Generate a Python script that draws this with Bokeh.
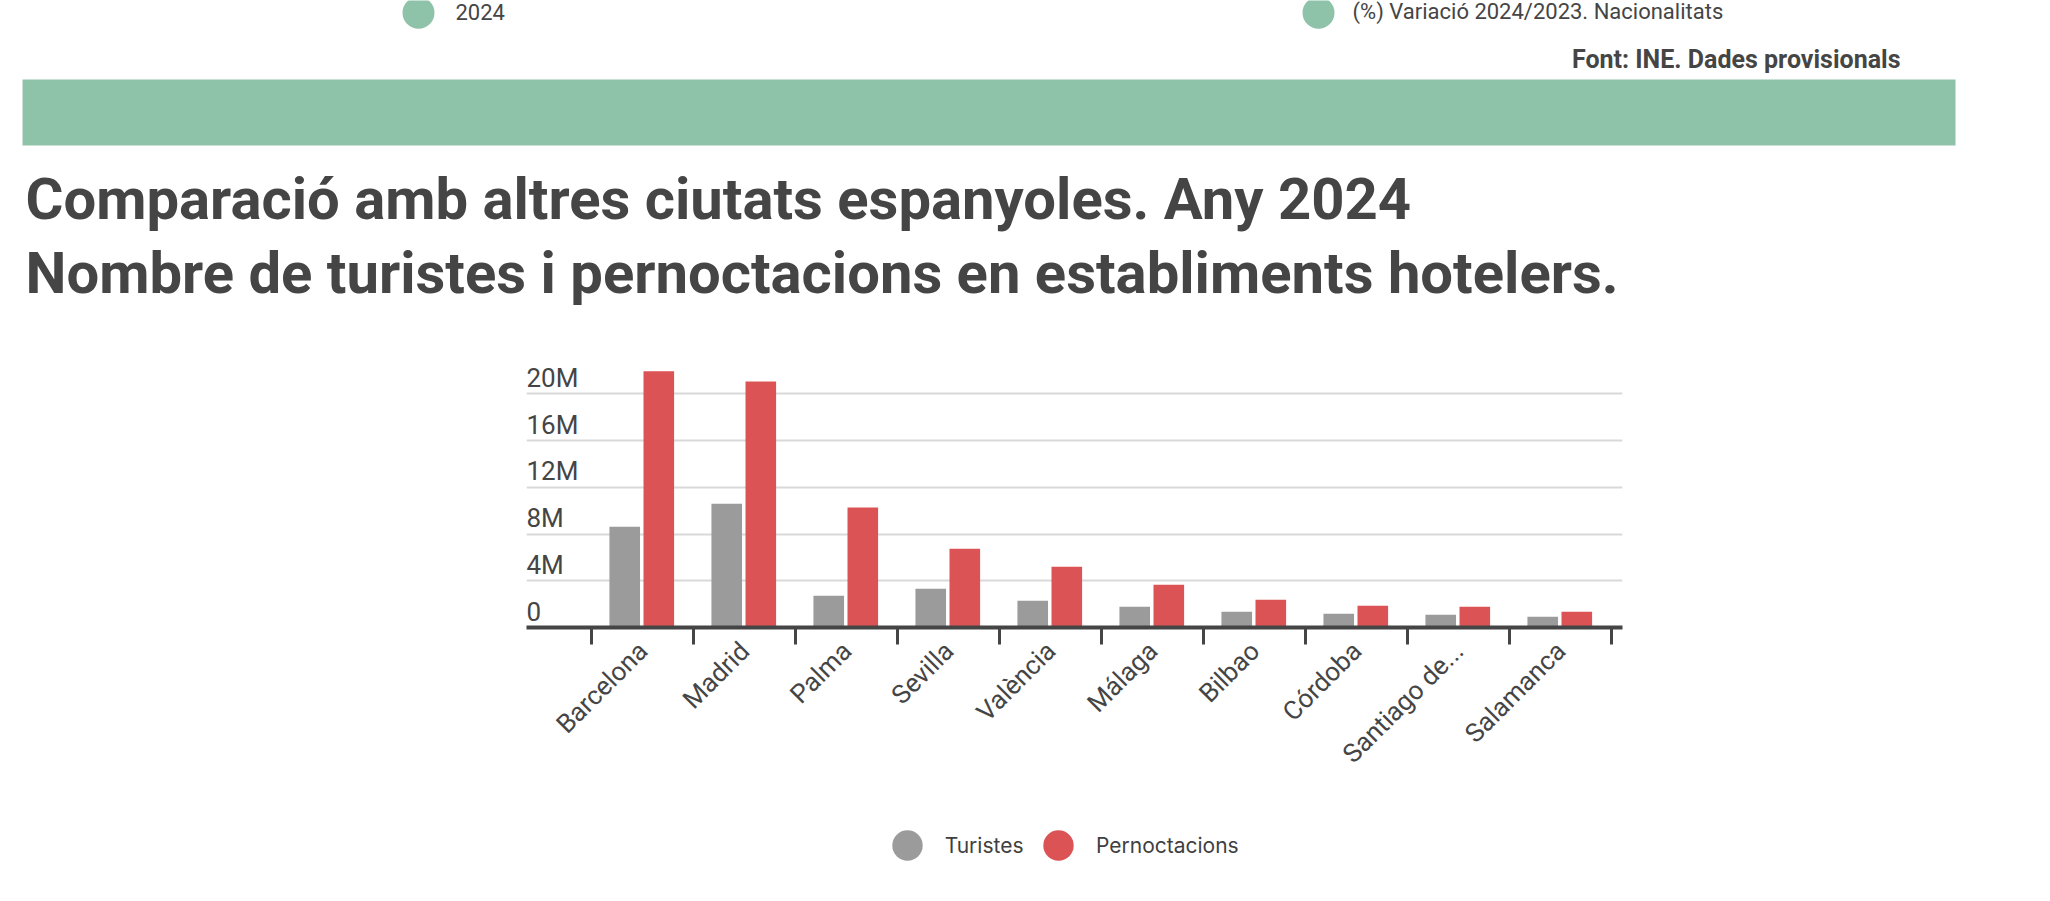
import math
from bokeh.plotting import figure
from bokeh.models import Range1d, FixedTicker, Grid, Legend, LegendItem, ColumnDataSource
from bokeh.transform import dodge
from bokeh.core.properties import value
from bokeh.embed import file_html
from bokeh.resources import INLINE

# ---------------- data ----------------
cities = ["Barcelona", "Madrid", "Palma", "Sevilla", "València", "Málaga",
          "Bilbao", "Córdoba", "Santiago de...", "Salamanca"]
turistes = [8.63e6, 10.60e6, 2.72e6, 3.32e6, 2.29e6, 1.77e6, 1.35e6, 1.17e6, 1.09e6, 0.92e6]
pernoctacions = [21.92e6, 21.06e6, 10.26e6, 6.75e6, 5.20e6, 3.66e6, 2.37e6, 1.86e6, 1.77e6, 1.35e6]
series_names = ["Turistes", "Pernoctacions"]
y_ticks = [0, 4e6, 8e6, 12e6, 16e6, 20e6]
y_tick_labels = ["0", "4M", "8M", "12M", "16M", "20M"]

title_lines = ["Comparació amb altres ciutats espanyoles. Any 2024",
               "Nombre de turistes i pernoctacions en establiments hotelers."]
top_legend_labels = ["2024", "(%) Variació 2024/2023. Nacionalitats"]
source_note = "Font: INE. Dades provisionals"

# ---------------- style ----------------
TXT = "#454545"
GRAY = "#9b9b9b"
RED = "#dc5356"
GREEN = "#8fc3a9"
FONT = "Roboto"
W = 2050
H1 = 330
H2 = 460
H3 = 105


def bare(fig):
    fig.grid.visible = False
    fig.outline_line_color = None
    return fig


# ---------------- header (page pixel coordinates, y downwards) ----------------
hdr = bare(figure(width=W, height=H1, x_range=Range1d(0, W), y_range=Range1d(H1, 0),
                  output_backend="svg", toolbar_location=None,
                  x_axis_location=None, y_axis_location=None, min_border=0))

hdr.scatter(x=[418, 1318], y=[12.3, 12.3], size=32, color=GREEN, line_color=None)
hdr.text(x=[455, 1352], y=[11.0, 11.0], text=top_legend_labels,
         text_font=value(FONT), text_font_size="22px", text_color=TXT,
         text_baseline="alphabetic", text_align="left")
hdr.text(x=[1900], y=[59.3], text=[source_note], text_font=value(FONT),
         text_font_size="25px", text_font_style="bold", text_color=TXT,
         text_baseline="alphabetic", text_align="right")
hdr.quad(left=[22], right=[1955], top=[79], bottom=[145], color=GREEN, line_color=None)
hdr.text(x=[25, 25], y=[198.5, 272.8], text=title_lines, text_font=value(FONT),
         text_font_size="58px", text_font_style="bold", text_color=TXT,
         text_baseline="alphabetic", text_align="left")

# ---------------- chart ----------------
p = bare(figure(width=W, height=H2, x_range=Range1d(-0.640, 10.105), y_range=Range1d(0, 22.85e6),
                output_backend="svg", toolbar_location=None, y_axis_location=None,
                min_border_left=526, min_border_right=W - 1622, min_border_top=30,
                min_border_bottom=H2 - 30 - 267))
p.add_layout(Grid(dimension=1, ticker=FixedTicker(ticks=y_ticks),
                  grid_line_color="#d9d9d9", grid_line_width=2))

src = ColumnDataSource(dict(idx=list(range(len(cities))), city=cities,
                            turistes=turistes, pernoctacions=pernoctacions))
p.vbar(x=dodge("idx", 0.323, range=p.x_range), top="turistes", width=0.30, bottom=0,
       source=src, color=GRAY, line_color=None)
p.vbar(x=dodge("idx", 0.657, range=p.x_range), top="pernoctacions", width=0.30, bottom=0,
       source=src, color=RED, line_color=None)

# y tick labels, drawn over the grid lines at the frame's left edge
p.text(x=[p.x_range.start] * len(y_ticks), y=y_ticks, text=y_tick_labels,
       text_font=value(FONT), text_font_size="26px", text_color=TXT,
       text_baseline="alphabetic", text_align="left", y_offset=-16)

ax = p.xaxis[0]
ax.ticker = FixedTicker(ticks=[i + 0.5 for i in range(len(cities))],
                        minor_ticks=list(range(len(cities) + 1)))
ax.major_label_overrides = {i + 0.5: c for i, c in enumerate(cities)}
ax.major_tick_line_color = None
ax.major_tick_out = 0
ax.major_tick_in = 0
ax.minor_tick_out = 17
ax.minor_tick_in = 0
ax.minor_tick_line_width = 3
ax.minor_tick_line_color = TXT
ax.axis_line_width = 4
ax.axis_line_color = TXT
ax.major_label_orientation = math.pi / 4
ax.major_label_standoff = 2
ax.major_label_text_font = FONT
ax.major_label_text_font_size = "26px"
ax.major_label_text_color = TXT

# ---------------- legend strip ----------------
lg = bare(figure(width=W, height=H3, x_range=Range1d(0, 1), y_range=Range1d(0, 1),
                 output_backend="svg", toolbar_location=None,
                 x_axis_location=None, y_axis_location=None, min_border=0))
nan = float("nan")
r_t = lg.scatter(x=[nan], y=[nan], color=GRAY, line_color=None)
r_p = lg.scatter(x=[nan], y=[nan], color=RED, line_color=None)
for r, name, loc in [(r_t, series_names[0], (868.7, 10)), (r_p, series_names[1], (1020, 10))]:
    leg = Legend(items=[LegendItem(label=name, renderers=[r])], location=loc,
                 orientation="horizontal", glyph_width=76, glyph_height=80,
                 label_standoff=0, padding=0, margin=0, spacing=0,
                 border_line_color=None, background_fill_alpha=0,
                 label_text_font="Inter", label_text_font_size="21px",
                 label_text_color="#3f3f3f")
    lg.add_layout(leg, "center")

open("out.html", "w").write(file_html([hdr, p, lg], INLINE))
